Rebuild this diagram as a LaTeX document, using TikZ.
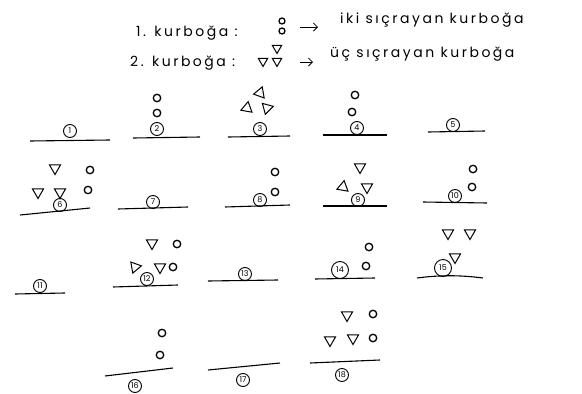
\documentclass[tikz,border=0pt]{standalone}
\usepackage{fontspec}
\setmainfont{Poppins}
\newfontfamily\handfont[LetterSpace=18]{Poppins}
\usetikzlibrary{positioning, arrows.meta, shapes.geometric}

\begin{document}
\begin{tikzpicture}[x=1pt, y=-1pt, >={Straight Barb[length=4pt]},
  frog/.style={circle, draw, line width=1.3pt, minimum size=7.5pt, inner sep=0pt},
  hopper/.style={regular polygon, regular polygon sides=3, shape border rotate=180,
    draw, line width=1pt, minimum size=13pt, inner sep=0pt},
  tag/.style={circle, draw, line width=0.9pt, minimum size=13pt, inner sep=0.5pt,
    font=\fontsize{8}{9}\selectfont},
  ground/.style={line width=1.1pt},
  hand/.style={anchor=west, inner sep=0pt, font=\handfont\fontsize{14}{16}\selectfont}]
  \useasboundingbox (0,0) rectangle (582,394);

  % legend
  \node[hand] (h1) at (136,33) {1. kurboğa :};
  \node[frog, minimum size=6pt] (k1a) at (282,21) {};
  \node[frog, minimum size=6pt] (k1b) at (282,31) {};
  \node[hand] (t1) at (340,20) {iki sıçrayan kurboğa};
  \coordinate (a1s) at (300,27);
  \coordinate (a1e) at (318,27);
  \draw[->, line width=0.8pt] (a1s) -- (a1e);

  \node[hand] (h2) at (130,63) {2. kurboğa :};
  \node[hopper, minimum size=11pt] (k2a) at (277,48) {};
  \node[hopper, minimum size=11pt] (k2b) at (263,61) {};
  \node[hopper, minimum size=11pt] (k2c) at (277,61) {};
  \node[hand] (t2) at (330,54) {üç sıçrayan kurboğa};
  \coordinate (a2s) at (300,62);
  \coordinate (a2e) at (313,62);
  \draw[->, line width=0.8pt] (a2s) -- (a2e);

  % row 1
  \draw[ground] (30,141) -- (110,140);
  \node[tag] (n1) at (70,131) {1};

  \draw[ground] (133,138) -- (200,137);
  \node[tag] (n2) at (157,129) {2};
  \node[frog] (f2a) at (157,98) {};
  \node[frog] (f2b) at (157,113) {};

  \draw[ground] (228,137) -- (290,136);
  \node[tag] (n3) at (260,129) {3};
  \node[hopper, shape border rotate=100] (p3a) at (260,93) {};
  \node[hopper, shape border rotate=110] (p3b) at (247,108) {};
  \node[hopper, shape border rotate=165] (p3c) at (267,108) {};

  \draw[ground] (323,135) -- (387,135);
  \node[tag] (n4) at (357,128) {4};
  \node[frog] (f4a) at (355,95) {};
  \node[frog] (f4b) at (352,112) {};

  \draw[ground] (428,132) -- (485,131);
  \node[tag] (n5) at (453,125) {5};

  % row 2
  \draw[ground] (20,215) -- (90,208);
  \node[tag] (n6) at (60,205) {6};
  \node[hopper] (p6a) at (55,168) {};
  \node[hopper] (p6b) at (38,192) {};
  \node[hopper] (p6c) at (60,192) {};
  \node[frog] (f6a) at (90,170) {};
  \node[frog] (f6b) at (88,190) {};

  \draw[ground] (118,209) -- (188,207);
  \node[tag] (n7) at (153,202) {7};

  \draw[ground] (225,207) -- (290,205);
  \node[tag] (n8) at (260,200) {8};
  \node[frog] (f8a) at (275,172) {};
  \node[frog] (f8b) at (275,192) {};

  \draw[ground] (323,206) -- (387,206);
  \node[tag] (n9) at (358,200) {9};
  \node[hopper] (p9a) at (360,167) {};
  \node[hopper, shape border rotate=110] (p9b) at (343,187) {};
  \node[hopper] (p9c) at (367,187) {};

  \draw[ground] (423,202) -- (487,203);
  \node[tag] (n10) at (455,196) {10};
  \node[frog] (f10a) at (473,169) {};
  \node[frog] (f10b) at (472,187) {};

  % row 3
  \draw[ground] (15,294) -- (65,293);
  \node[tag] (n11) at (40,286) {11};

  \draw[ground] (113,287) -- (178,285);
  \node[tag] (n12) at (147,279) {12};
  \node[hopper] (p12a) at (152,243) {};
  \node[hopper, shape border rotate=160] (p12b) at (135,267) {};
  \node[hopper] (p12c) at (160,267) {};
  \node[frog] (f12a) at (177,244) {};
  \node[frog] (f12b) at (173,267) {};

  \draw[ground] (208,281) -- (278,280);
  \node[tag] (n13) at (245,274) {13};

  \draw[ground] (315,279) -- (375,278);
  \node[tag, minimum size=17pt] (n14) at (340,270) {14};
  \node[frog] (f14a) at (369,247) {};
  \node[frog] (f14b) at (366,266) {};

  \draw[ground] (417,278) .. controls (440,275) and (460,275) .. (483,278);
  \node[tag, minimum size=17pt] (n15) at (443,268) {15};
  \node[hopper] (p15a) at (448,233) {};
  \node[hopper] (p15b) at (470,233) {};
  \node[hopper] (p15c) at (455,257) {};

  % row 4
  \draw[ground] (105,376) -- (173,368);
  \node[tag] (n16) at (135,386) {16};
  \node[frog] (f16a) at (162,333) {};
  \node[frog] (f16b) at (160,355) {};

  \draw[ground] (208,370) -- (280,363);
  \node[tag] (n17) at (243,380) {17};

  \draw[ground] (310,363) -- (380,360);
  \node[tag] (n18) at (342,375) {18};
  \node[hopper] (p18a) at (347,315) {};
  \node[hopper] (p18b) at (330,340) {};
  \node[hopper] (p18c) at (353,338) {};
  \node[frog] (f18a) at (373,314) {};
  \node[frog] (f18b) at (373,338) {};
\end{tikzpicture}
\end{document}
